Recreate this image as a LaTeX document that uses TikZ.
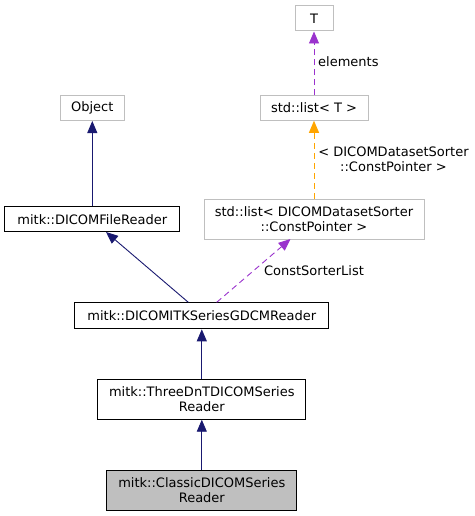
\documentclass[tikz,border=0pt]{standalone}
\usepackage{fontspec}
\setmainfont{DejaVu Sans}
\usetikzlibrary{arrows.meta}
\definecolor{navy}{HTML}{191970}
\definecolor{purp}{HTML}{9A32CD}
\definecolor{orng}{HTML}{FFA500}
\definecolor{boxgray}{HTML}{BFBFBF}
\begin{document}
\begin{tikzpicture}[x=1pt,y=-1pt,
  cls/.style={draw=black,line width=1pt,fill=white,align=center,inner sep=0pt,
    font=\fontsize{13}{15}\selectfont},
  ext/.style={cls,draw=boxgray},
  lbl/.style={align=center,inner sep=0pt,font=\fontsize{13}{15}\selectfont},
  inh/.style={draw=navy,line width=0.9pt,-{Triangle[length=12pt,width=10pt]}},
  use/.style={draw=purp,line width=0.9pt,dash pattern=on 6pt off 4pt,-{Triangle[length=12pt,width=10pt]}},
  tpl/.style={draw=orng,line width=0.9pt,dash pattern=on 6pt off 4pt,-{Triangle[length=12pt,width=10pt]}}
]
\useasboundingbox (0,0) rectangle (474,516);
\node[ext,minimum width=38pt,minimum height=25pt] (T) at (314,18.5) {T};
\node[ext,minimum width=108pt,minimum height=24.5pt] (listT) at (314,108) {std::list< T >};
\node[ext,minimum width=64pt,minimum height=25pt] (obj) at (92.3,108) {Object};
\node[cls,minimum width=175pt,minimum height=25pt] (fr) at (92.3,219.3) {mitk::DICOMFileReader};
\node[ext,minimum width=220pt,minimum height=40pt] (listD) at (314,219) {std::list< DICOMDatasetSorter\\::ConstPointer >};
\node[cls,minimum width=254pt,minimum height=26pt] (gdcm) at (201.8,315.8) {mitk::DICOMITKSeriesGDCMReader};
\node[cls,minimum width=208pt,minimum height=40pt] (three) at (201.8,399.2) {mitk::ThreeDnTDICOMSeries\\Reader};
\node[cls,fill=boxgray,minimum width=190pt,minimum height=40pt] (classic) at (201.8,490) {mitk::ClassicDICOMSeries\\Reader};

\draw[inh] (gdcm.north) ++(-13.5,0) coordinate (g1) -- (106,232);
\draw[inh] (fr.north) -- (obj.south);
\draw[use] (gdcm.north) ++(14.9,0) coordinate (g2) -- (290.5,239);
\draw[tpl] (listD.north) -- (listT.south);
\draw[use] (listT.north) -- (T.south);
\draw[inh] (three.north) -- (gdcm.south);
\draw[inh] (classic.north) -- (three.south);

\node[lbl,anchor=west] (lel) at (318,62) {elements};
\node[lbl] (lcp) at (393.5,159) {< DICOMDatasetSorter\\::ConstPointer >};
\node[lbl] (lcs) at (314,271) {ConstSorterList};
\end{tikzpicture}
\end{document}
